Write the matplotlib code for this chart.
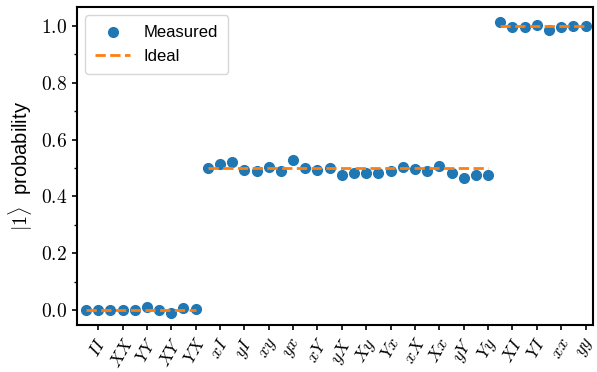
import numpy as np
import matplotlib
matplotlib.use("Agg")
import matplotlib.pyplot as plt
from matplotlib.ticker import MultipleLocator

plt.rcParams['mathtext.fontset'] = 'cm'
plt.rcParams['font.family'] = ['Liberation Sans', 'DejaVu Sans']

gate_labels = ["II", "XX", "YY", "XY", "YX", "xI", "yI", "xy", "yx", "xY", "yX",
               "Xy", "Yx", "xX", "Xx", "yY", "Yy", "XI", "YI", "xx", "yy"]

measured_low = [0.002, 0.0, 0.0, 0.0, 0.002, 0.010, 0.002, -0.010, 0.006, 0.003]
measured_mid = [0.500, 0.515, 0.520, 0.493, 0.490, 0.505, 0.489, 0.528, 0.501, 0.493,
                0.502, 0.474, 0.481, 0.482, 0.481, 0.490, 0.505, 0.498, 0.489, 0.507,
                0.481, 0.466, 0.476, 0.476]
measured_high = [1.015, 0.998, 0.998, 1.004, 0.986, 0.998, 1.000, 1.002]

ideal_levels = [0.0, 0.5, 1.0]

measured = measured_low + measured_mid + measured_high
x = np.arange(len(measured))

fig = plt.figure(figsize=(5.97, 3.72), dpi=100)
ax = fig.add_axes([0.129, 0.126, 0.864, 0.855])

ax.plot(x, measured, 'o', color='#1f77b4', markersize=7, label='Measured', zorder=2)

start = 0
for i, (grp, level) in enumerate(zip([measured_low, measured_mid, measured_high], ideal_levels)):
    xs = np.arange(start, start + len(grp))
    ax.plot(xs, [level] * len(grp), '--', color='#ff7f0e', lw=2,
            label='Ideal' if i == 0 else None, zorder=3)
    start += len(grp)

ax.set_xticks(x[1::2])
ax.set_xticklabels(["$" + g + "$" for g in gate_labels], rotation=60, fontsize=13)
ax.set_yticks([0.0, 0.2, 0.4, 0.6, 0.8, 1.0])
ax.set_yticklabels([r"$%.1f$" % v for v in [0.0, 0.2, 0.4, 0.6, 0.8, 1.0]], fontsize=14)
ax.yaxis.set_minor_locator(MultipleLocator(0.1))
ax.tick_params(width=1.2)
ax.tick_params(which='minor', width=1.0)

ax.set_xlim(-0.74, 41.6)
ax.set_ylim(-0.053, 1.067)
ax.set_ylabel(r"$|1\rangle$  probability", fontsize=14.5)

for s in ax.spines.values():
    s.set_linewidth(1.5)

ax.legend(loc='upper left', fontsize=12, handlelength=2.1, handletextpad=0.8,
          labelspacing=0.5, borderpad=0.6)

plt.savefig("out.png", dpi=100)
